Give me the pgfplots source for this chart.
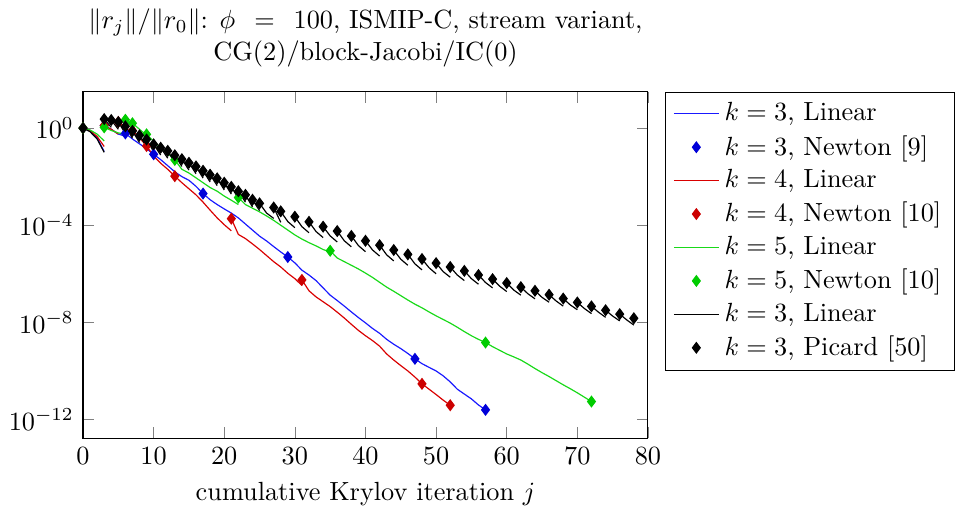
\documentclass[border=0pt]{standalone}
\usepackage{pgfplots}
\pgfplotsset{compat=1.18}
\definecolor{cb}{rgb}{0,0,0.85}
\definecolor{cr}{rgb}{0.8,0,0}
\definecolor{cg}{rgb}{0,0.8,0}
\definecolor{lineblue}{rgb}{0.1,0.1,1}
\definecolor{linered}{rgb}{0.85,0,0}
\definecolor{linegreen}{rgb}{0.1,0.85,0.1}
\begin{document}
\begin{tikzpicture}
\begin{axis}[
  scale only axis, width=215pt, height=132pt,
  xmin=0, xmax=80,
  ymode=log, ymin=1.66e-13, ymax=31.6,
  ytick={1e-12,1e-8,1e-4,1}, yminorticks=false,
  xlabel={cumulative Krylov iteration $j$},
  title={$\|r_j\|/\|r_0\|$: $\phi\;\,=\;\,100$, ISMIP-C, stream variant,\\CG(2)/block-Jacobi/IC(0)},
  title style={align=center},
  legend style={at={(1.03,1)}, anchor=north west},
  legend cell align=left,
  unbounded coords=jump,
  mark size=2pt,
]
% k=3 Newton, linear
\addplot[draw=lineblue, line width=0.45pt, no marks] coordinates {
(0,1) (1,0.759) (2,0.398) (3,0.107) (3,nan)
(3,1.26) (4,0.891) (5,0.562) (6,0.468) (6,nan)
(6,0.603) (7,0.355) (8,0.224) (9,0.141) (10,8.32e-2) (11,5.01e-2) (12,2.82e-2) (13,1.58e-2) (14,1.00e-2) (15,7.08e-3) (16,3.98e-3) (17,2.00e-3) (18,1.12e-3) (19,7.08e-4) (20,4.68e-4) (21,3.16e-4) (22,2.00e-4) (23,1.12e-4) (24,6.31e-5) (25,3.55e-5) (26,2.24e-5) (27,1.32e-5) (28,7.94e-6) (29,4.90e-6) (30,2.82e-6) (31,1.41e-6) (32,8.91e-7) (33,5.25e-7) (34,2.63e-7) (35,1.32e-7) (36,7.94e-8) (37,4.68e-8) (38,2.69e-8) (39,1.58e-8) (40,9.55e-9) (41,5.62e-9) (42,3.55e-9) (43,2.00e-9) (44,1.26e-9) (45,8.32e-10) (46,5.25e-10) (47,3.16e-10) (48,2.00e-10) (49,1.41e-10) (50,1.00e-10) (51,6.31e-11) (52,3.55e-11) (53,1.78e-11) (54,1.12e-11) (55,7.08e-12) (56,3.98e-12) (57,2.51e-12)
};
\addlegendentry{$k=3$, Linear}
\addplot[color=cb, only marks, mark=diamond*] coordinates {
(0,1) (3,1.26) (6,0.603) (10,8.32e-2) (17,2.00e-3) (29,4.90e-6) (47,3.16e-10) (57,2.51e-12)
};
\addlegendentry{$k=3$, Newton [9]}
% k=4
\addplot[draw=linered, line width=0.45pt, no marks] coordinates {
(0,1) (1,0.794) (2,0.447) (3,0.174) (3,nan)
(3,1.26) (4,0.891) (5,0.562) (5,nan)
(5,1.78) (6,1.0) (7,0.631) (7,nan)
(7,0.794) (8,0.398) (9,0.182) (10,7.08e-2) (11,3.55e-2) (12,2.00e-2) (13,1.05e-2) (14,5.62e-3) (15,3.16e-3) (16,1.78e-3) (17,8.91e-4) (18,4.17e-4) (19,2.00e-4) (20,1.05e-4) (21,5.89e-5) (21,nan)
(21,1.86e-4) (22,4.17e-5) (23,2.82e-5) (24,1.70e-5) (25,1.00e-5) (26,5.62e-6) (27,3.16e-6) (28,1.91e-6) (29,1.05e-6) (30,6.31e-7) (31,3.31e-7) (31,nan)
(31,5.62e-7) (32,2.00e-7) (33,1.12e-7) (34,7.08e-8) (35,4.47e-8) (36,2.63e-8) (37,1.51e-8) (38,8.32e-9) (39,4.68e-9) (40,2.82e-9) (41,1.78e-9) (42,1.05e-9) (43,5.01e-10) (44,2.82e-10) (45,1.66e-10) (46,1.00e-10) (47,5.62e-11) (48,2.95e-11) (49,1.78e-11) (50,1.07e-11) (51,6.31e-12) (52,3.89e-12)
};
\addlegendentry{$k=4$, Linear}
\addplot[color=cr, only marks, mark=diamond*] coordinates {
(0,1) (3,1.26) (5,1.78) (7,0.794) (9,0.182) (13,1.05e-2) (21,1.86e-4) (31,5.62e-7) (48,2.95e-11) (52,3.89e-12)
};
\addlegendentry{$k=4$, Newton [10]}
% k=5
\addplot[draw=linegreen, line width=0.45pt, no marks] coordinates {
(0,1) (1,0.832) (2,0.562) (3,0.295) (3,nan)
(3,1.07) (4,0.794) (5,0.631) (6,0.562) (6,nan)
(6,2.19) (7,1.26) (7,nan)
(7,1.58) (8,0.891) (9,0.501) (9,nan)
(9,0.550) (10,0.282) (11,0.158) (12,8.91e-2) (13,4.90e-2) (14,2.00e-2) (15,1.41e-2) (16,8.91e-3) (17,5.62e-3) (18,3.55e-3) (19,2.51e-3) (20,1.58e-3) (21,1.07e-3) (22,7.08e-4) (22,nan)
(22,1.38e-3) (23,7.08e-4) (24,5.01e-4) (25,3.55e-4) (26,2.40e-4) (27,1.58e-4) (28,1.00e-4) (29,6.31e-5) (30,3.98e-5) (31,2.69e-5) (32,1.91e-5) (33,1.41e-5) (34,1.00e-5) (35,7.94e-6) (35,nan)
(35,8.91e-6) (36,4.47e-6) (37,3.16e-6) (38,2.24e-6) (39,1.58e-6) (40,1.07e-6) (41,7.08e-7) (42,4.47e-7) (43,2.82e-7) (44,1.91e-7) (45,1.26e-7) (46,8.32e-8) (47,5.62e-8) (48,3.98e-8) (49,2.69e-8) (50,1.86e-8) (51,1.32e-8) (52,9.33e-9) (53,6.31e-9) (54,4.17e-9) (55,2.82e-9) (56,2.00e-9) (57,1.48e-9) (58,1.00e-9) (59,7.08e-10) (60,5.01e-10) (61,3.80e-10) (62,2.82e-10) (63,1.91e-10) (64,1.26e-10) (65,8.51e-11) (66,5.89e-11) (67,3.98e-11) (68,2.69e-11) (69,1.86e-11) (70,1.26e-11) (71,8.32e-12) (72,5.50e-12)
};
\addlegendentry{$k=5$, Linear}
\addplot[color=cg, only marks, mark=diamond*] coordinates {
(0,1) (3,1.07) (6,2.19) (7,1.58) (9,0.550) (13,4.90e-2) (22,1.38e-3) (35,8.91e-6) (57,1.48e-9) (72,5.50e-12)
};
\addlegendentry{$k=5$, Newton [10]}
% k=3 Picard
\addplot[draw=black, line width=0.45pt, no marks] coordinates {
(0,1) (1,0.708) (2,0.355) (3,0.1) (3,nan)
(3,2.34) (4,1.07) (4,nan)
(4,2.14) (5,0.891) (5,nan)
(5,1.78) (6,0.589) (6,nan)
(6,1.18) (7,0.380) (7,nan)
(7,0.759) (8,0.251) (8,nan)
(8,0.501) (9,0.170) (9,nan)
(9,0.339) (10,0.107) (10,nan)
(10,0.214) (11,7.76e-2) (11,nan)
(11,0.155) (12,5.75e-2) (12,nan)
(12,0.115) (13,3.80e-2) (13,nan)
(13,7.59e-2) (14,2.63e-2) (14,nan)
(14,5.25e-2) (15,1.86e-2) (15,nan)
(15,3.72e-2) (16,1.32e-2) (16,nan)
(16,2.63e-2) (17,8.71e-3) (17,nan)
(17,1.74e-2) (18,6.03e-3) (18,nan)
(18,1.20e-2) (19,4.27e-3) (19,nan)
(19,8.51e-3) (20,2.82e-3) (20,nan)
(20,5.62e-3) (21,1.91e-3) (21,nan)
(21,3.80e-3) (22,1.26e-3) (22,nan)
(22,2.51e-3) (23,8.91e-4) (23,nan)
(23,1.78e-3) (24,5.62e-4) (24,nan)
(24,1.12e-3) (25,3.98e-4) (25,nan)
(25,7.94e-4) (26,3.16e-4) (27,1.91e-4) (27,nan)
(27,5.37e-4) (28,1.32e-4) (28,nan)
(28,3.72e-4) (29,1.41e-4) (30,7.94e-5) (30,nan)
(30,2.24e-4) (31,8.71e-5) (32,4.90e-5) (32,nan)
(32,1.38e-4) (33,5.50e-5) (34,3.09e-5) (34,nan)
(34,8.71e-5) (35,3.63e-5) (36,2.04e-5) (36,nan)
(36,5.75e-5) (37,2.29e-5) (38,1.29e-5) (38,nan)
(38,3.63e-5) (39,1.45e-5) (40,8.13e-6) (40,nan)
(40,2.29e-5) (41,9.55e-6) (42,5.37e-6) (42,nan)
(42,1.51e-5) (43,6.03e-6) (44,3.39e-6) (44,nan)
(44,9.55e-6) (45,3.98e-6) (46,2.24e-6) (46,nan)
(46,6.31e-6) (47,2.57e-6) (48,1.45e-6) (48,nan)
(48,4.07e-6) (49,1.78e-6) (50,1.00e-6) (50,nan)
(50,2.75e-6) (51,1.23e-6) (52,7.24e-7) (52,nan)
(52,1.91e-6) (53,8.91e-7) (54,5.25e-7) (54,nan)
(54,1.32e-6) (55,6.31e-7) (56,3.72e-7) (56,nan)
(56,8.91e-7) (57,4.37e-7) (58,2.63e-7) (58,nan)
(58,6.03e-7) (59,3.09e-7) (60,1.86e-7) (60,nan)
(60,4.17e-7) (61,2.14e-7) (62,1.32e-7) (62,nan)
(62,2.82e-7) (63,1.51e-7) (64,9.33e-8) (64,nan)
(64,2.00e-7) (65,1.07e-7) (66,6.76e-8) (66,nan)
(66,1.38e-7) (67,7.59e-8) (68,4.68e-8) (68,nan)
(68,9.55e-8) (69,5.25e-8) (70,3.31e-8) (70,nan)
(70,6.61e-8) (71,3.72e-8) (72,2.29e-8) (72,nan)
(72,4.57e-8) (73,2.63e-8) (74,1.62e-8) (74,nan)
(74,3.16e-8) (75,1.82e-8) (76,1.15e-8) (76,nan)
(76,2.19e-8) (77,1.26e-8) (78,7.76e-9)
};
\addlegendentry{$k=3$, Linear}
\addplot[color=black, only marks, mark=diamond*] coordinates {
(0,1) (3,2.34) (4,2.14) (5,1.78) (6,1.18) (7,0.759) (8,0.501) (9,0.339) (10,0.214) (11,0.155) (12,0.115) (13,7.59e-2) (14,5.25e-2) (15,3.72e-2) (16,2.63e-2) (17,1.74e-2) (18,1.20e-2) (19,8.51e-3) (20,5.62e-3) (21,3.80e-3) (22,2.51e-3) (23,1.78e-3) (24,1.12e-3) (25,7.94e-4) (27,5.37e-4) (28,3.72e-4) (30,2.24e-4) (32,1.38e-4) (34,8.71e-5) (36,5.75e-5) (38,3.63e-5) (40,2.29e-5) (42,1.51e-5) (44,9.55e-6) (46,6.31e-6) (48,4.07e-6) (50,2.75e-6) (52,1.91e-6) (54,1.32e-6) (56,8.91e-7) (58,6.03e-7) (60,4.17e-7) (62,2.82e-7) (64,2.00e-7) (66,1.38e-7) (68,9.55e-8) (70,6.61e-8) (72,4.57e-8) (74,3.16e-8) (76,2.19e-8) (78,1.48e-8)
};
\addlegendentry{$k=3$, Picard [50]}
\end{axis}
\end{tikzpicture}
\end{document}
